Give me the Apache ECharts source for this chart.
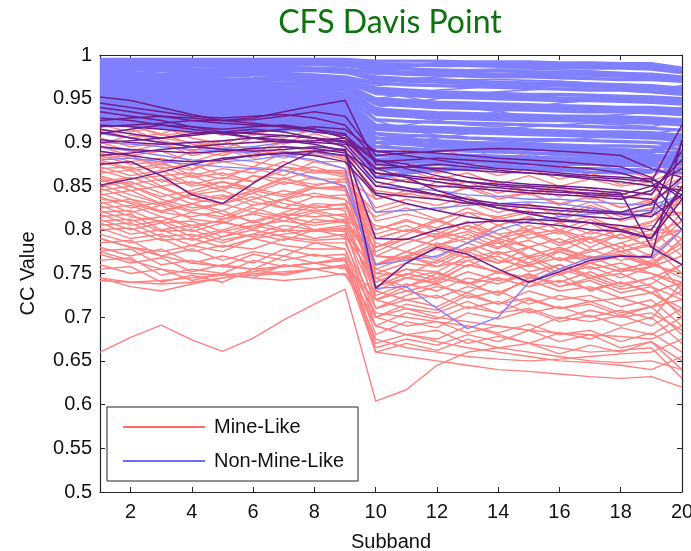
<!DOCTYPE html>
<html>
<head>
<meta charset="utf-8">
<script src="https://cdn.jsdelivr.net/npm/echarts@6/dist/echarts.min.js"></script>
<style>
  html, body { margin: 0; padding: 0; background: #ffffff; }
  #chart { width: 691px; height: 551px; }
</style>
</head>
<body>
<div id="chart"></div>
<script>
// Subband index on the x axis
const subband = [1, 2, 3, 4, 5, 6, 7, 8, 9, 10, 11, 12, 13, 14, 15, 16, 17, 18, 19, 20];
const xTickValues = [2, 4, 6, 8, 10, 12, 14, 16, 18, 20];
const yTickValues = [0.5, 0.55, 0.6, 0.65, 0.7, 0.75, 0.8, 0.85, 0.9, 0.95, 1];

// Mine-like targets: CC value per subband (upper group)
const mineLikeHigh = [
  [.93,.925,.918,.925,.92,.912,.922,.93,.925,.9,.89,.895,.882,.878,.885,.872,.876,.868,.872,.89],
  [.925,.932,.922,.915,.92,.908,.918,.915,.918,.91,.902,.89,.895,.88,.888,.875,.882,.872,.878,.86],
  [.925,.918,.91,.92,.908,.918,.912,.922,.915,.87,.878,.865,.872,.862,.87,.858,.865,.852,.86,.88],
  [.92,.912,.918,.905,.898,.91,.905,.915,.905,.86,.868,.858,.865,.852,.862,.85,.858,.85,.855,.87],
  [.918,.92,.908,.912,.918,.91,.922,.915,.912,.888,.878,.885,.875,.882,.868,.875,.862,.87,.858,.9],
  [.915,.905,.91,.898,.892,.905,.898,.905,.895,.78,.795,.81,.8,.815,.8,.808,.795,.805,.792,.84],
  [.91,.915,.902,.895,.902,.89,.9,.91,.9,.85,.858,.848,.855,.842,.85,.838,.848,.835,.842,.86],
  [.905,.895,.9,.885,.892,.882,.895,.89,.89,.835,.845,.838,.848,.835,.842,.828,.838,.825,.835,.85],
  [.9,.89,.898,.89,.902,.89,.882,.89,.88,.77,.785,.795,.785,.805,.79,.798,.78,.795,.78,.82],
  [.898,.908,.905,.9,.895,.885,.89,.885,.885,.845,.84,.855,.848,.855,.84,.848,.835,.842,.832,.875],
  [.895,.885,.89,.878,.888,.892,.885,.892,.882,.76,.775,.768,.785,.772,.78,.765,.778,.765,.772,.8],
  [.89,.882,.875,.89,.885,.895,.885,.878,.878,.825,.835,.828,.838,.825,.83,.815,.828,.815,.825,.83],
  [.888,.878,.882,.87,.878,.872,.888,.885,.885,.865,.855,.862,.848,.855,.842,.85,.838,.845,.84,.89],
  [.885,.875,.878,.862,.87,.865,.878,.868,.868,.755,.768,.762,.778,.785,.768,.775,.762,.77,.758,.79],
  [.882,.885,.87,.875,.862,.87,.862,.878,.87,.81,.818,.81,.825,.812,.82,.81,.825,.81,.818,.82],
  [.88,.87,.875,.868,.882,.878,.872,.868,.865,.74,.755,.752,.77,.762,.78,.765,.77,.755,.762,.785],
  [.878,.868,.872,.86,.865,.855,.872,.865,.866,.8,.81,.802,.82,.815,.822,.808,.815,.8,.808,.84],
  [.875,.878,.862,.865,.858,.872,.868,.872,.862,.79,.8,.795,.81,.795,.8,.785,.798,.79,.795,.81],
  [.872,.862,.868,.852,.86,.855,.868,.858,.858,.835,.842,.835,.85,.838,.842,.83,.838,.826,.832,.855],
  [.87,.872,.855,.862,.848,.862,.858,.868,.86,.75,.762,.758,.775,.762,.77,.755,.762,.752,.765,.8],
  [.868,.858,.862,.85,.855,.845,.858,.852,.855,.82,.83,.822,.832,.82,.828,.82,.832,.818,.825,.78],
  [.865,.868,.85,.855,.845,.862,.852,.86,.85,.73,.745,.74,.76,.752,.768,.75,.758,.745,.758,.77],
  [.862,.852,.858,.842,.85,.845,.86,.848,.848,.775,.79,.782,.795,.78,.788,.775,.79,.775,.782,.75]
];

// Mine-like targets: middle group
const mineLikeMid = [
  [.86,.85,.838,.845,.855,.848,.84,.85,.858,.8,.812,.798,.79,.805,.815,.8,.79,.8,.81,.82],
  [.858,.845,.85,.835,.83,.842,.855,.848,.85,.72,.735,.75,.74,.725,.745,.76,.748,.735,.745,.76],
  [.855,.86,.848,.835,.84,.828,.835,.848,.848,.785,.775,.79,.805,.795,.78,.79,.775,.785,.795,.8],
  [.852,.84,.83,.842,.835,.845,.838,.848,.845,.76,.77,.785,.775,.79,.78,.765,.775,.785,.77,.73],
  [.85,.855,.842,.83,.822,.835,.845,.838,.84,.815,.825,.812,.82,.805,.815,.8,.812,.798,.805,.79],
  [.848,.835,.828,.84,.845,.832,.825,.838,.835,.745,.755,.745,.765,.77,.752,.76,.745,.755,.75,.74],
  [.845,.85,.835,.825,.83,.82,.835,.842,.835,.795,.805,.79,.798,.785,.795,.8,.785,.795,.78,.81],
  [.842,.83,.82,.83,.838,.842,.83,.825,.83,.77,.768,.782,.79,.778,.8,.785,.79,.775,.785,.76],
  [.84,.845,.83,.82,.815,.828,.835,.825,.83,.735,.75,.742,.76,.752,.74,.755,.745,.75,.735,.72],
  [.838,.825,.832,.822,.83,.838,.825,.822,.825,.805,.798,.812,.8,.79,.805,.795,.808,.79,.8,.77],
  [.835,.832,.822,.83,.818,.81,.82,.83,.828,.76,.775,.765,.78,.765,.758,.775,.765,.78,.76,.78],
  [.832,.82,.828,.812,.808,.82,.815,.828,.822,.71,.725,.735,.728,.745,.735,.75,.73,.74,.728,.71],
  [.83,.835,.82,.815,.822,.808,.818,.815,.818,.78,.79,.782,.775,.788,.77,.78,.768,.775,.762,.745],
  [.828,.815,.81,.82,.812,.825,.815,.822,.815,.75,.748,.765,.758,.775,.76,.768,.755,.762,.75,.735],
  [.825,.828,.815,.805,.81,.8,.815,.808,.812,.79,.8,.792,.805,.79,.798,.782,.792,.78,.788,.8],
  [.822,.81,.815,.802,.812,.818,.81,.82,.81,.725,.738,.73,.745,.738,.75,.735,.742,.728,.735,.7],
  [.82,.822,.808,.81,.798,.805,.81,.805,.81,.77,.765,.778,.768,.775,.762,.778,.768,.772,.76,.75],
  [.818,.805,.81,.798,.808,.802,.815,.8,.805,.745,.735,.745,.738,.752,.745,.74,.752,.738,.745,.725],
  [.815,.818,.8,.805,.792,.805,.798,.812,.808,.76,.77,.758,.765,.75,.76,.748,.762,.752,.758,.79],
  [.812,.8,.808,.792,.8,.81,.8,.798,.8,.7,.715,.708,.725,.715,.73,.72,.725,.712,.72,.69],
  [.81,.812,.798,.8,.788,.795,.805,.8,.802,.735,.745,.738,.752,.742,.748,.735,.745,.732,.738,.76],
  [.808,.795,.8,.788,.798,.792,.8,.79,.795,.755,.745,.752,.738,.745,.735,.742,.732,.74,.728,.705],
  [.805,.808,.792,.795,.785,.795,.788,.8,.798,.72,.73,.722,.735,.728,.742,.73,.735,.722,.728,.74],
  [.802,.79,.795,.782,.792,.8,.792,.788,.79,.69,.705,.698,.712,.705,.72,.71,.715,.702,.712,.68],
  [.8,.802,.788,.79,.78,.79,.795,.8,.792,.745,.73,.738,.722,.73,.715,.725,.718,.722,.712,.73]
];

// Mine-like targets: lower group
const mineLikeLow = [
  [.795,.785,.79,.775,.782,.778,.79,.785,.785,.71,.72,.712,.728,.715,.722,.71,.718,.705,.712,.72],
  [.79,.78,.775,.782,.775,.79,.782,.778,.778,.68,.695,.688,.705,.698,.708,.695,.702,.69,.7,.67],
  [.785,.788,.77,.778,.765,.775,.77,.785,.778,.7,.69,.695,.682,.69,.685,.7,.695,.702,.69,.71],
  [.78,.77,.778,.762,.77,.762,.778,.77,.772,.67,.68,.675,.69,.682,.692,.68,.685,.672,.682,.66],
  [.776,.778,.76,.765,.758,.772,.765,.772,.765,.69,.68,.685,.67,.678,.67,.682,.675,.688,.68,.7],
  [.772,.762,.768,.752,.76,.755,.77,.762,.765,.665,.675,.668,.68,.672,.685,.672,.68,.665,.672,.65],
  [.765,.768,.748,.755,.75,.765,.758,.762,.755,.73,.72,.725,.71,.718,.705,.712,.7,.708,.698,.74],
  [.76,.75,.755,.742,.75,.745,.76,.755,.758,.66,.67,.662,.675,.665,.67,.658,.668,.66,.672,.64],
  [.755,.758,.74,.748,.74,.755,.748,.755,.748,.7,.71,.705,.718,.705,.71,.698,.708,.7,.705,.685],
  [.745,.735,.73,.738,.745,.75,.752,.755,.76,.675,.665,.66,.655,.652,.65,.652,.655,.658,.66,.675],
  [.742,.74,.738,.74,.745,.748,.75,.755,.758,.72,.71,.7,.695,.69,.685,.682,.68,.678,.675,.69],
  [.775,.765,.755,.75,.748,.752,.758,.762,.768,.66,.655,.65,.645,.64,.638,.635,.632,.63,.632,.62],
  [.79,.78,.77,.762,.758,.755,.758,.762,.765,.705,.7,.695,.69,.68,.67,.665,.66,.662,.665,.63],
  [.745,.74,.742,.745,.748,.745,.742,.745,.75,.69,.68,.672,.665,.66,.655,.65,.648,.645,.64,.655],
  [.66,.677,.691,.674,.661,.676,.697,.715,.732,.604,.617,.645,.66,.665,.66,.655,.65,.648,.65,.64]
];

// Non-mine-like targets: dense upper band
const nonMineLikeBand = [
  [.995,.995,.995,.995,.995,.995,.995,.995,.995,.993,.993,.993,.992,.992,.992,.991,.991,.99,.99,.985],
  [.994,.993,.993,.992,.992,.992,.993,.993,.992,.988,.987,.99,.99,.989,.989,.988,.988,.987,.987,.983],
  [.993,.992,.992,.991,.99,.99,.991,.992,.991,.99,.989,.988,.988,.987,.986,.986,.985,.985,.984,.98],
  [.991,.99,.99,.989,.989,.989,.99,.99,.99,.982,.98,.98,.979,.978,.978,.977,.977,.976,.975,.972],
  [.99,.989,.988,.988,.987,.988,.989,.989,.988,.985,.984,.983,.982,.982,.981,.98,.98,.979,.978,.975],
  [.988,.986,.985,.984,.984,.985,.986,.985,.984,.98,.978,.977,.976,.975,.975,.974,.973,.972,.972,.97],
  [.986,.985,.984,.982,.982,.983,.984,.983,.982,.972,.97,.969,.967,.966,.965,.965,.964,.963,.962,.958],
  [.985,.984,.982,.98,.979,.98,.982,.982,.98,.975,.973,.972,.97,.969,.968,.968,.967,.966,.965,.962],
  [.982,.98,.978,.977,.976,.977,.978,.977,.975,.968,.966,.965,.964,.963,.962,.961,.96,.96,.958,.955],
  [.98,.978,.976,.974,.972,.973,.975,.975,.973,.962,.96,.958,.957,.956,.955,.955,.954,.953,.952,.95],
  [.979,.977,.975,.972,.971,.972,.974,.973,.971,.959,.957,.955,.954,.953,.952,.951,.951,.95,.949,.947],
  [.977,.975,.973,.97,.969,.97,.972,.971,.969,.956,.954,.952,.951,.95,.949,.948,.948,.947,.946,.944],
  [.975,.972,.97,.968,.966,.967,.968,.968,.966,.95,.948,.946,.945,.944,.943,.942,.941,.94,.94,.938],
  [.973,.971,.969,.967,.965,.966,.967,.966,.964,.947,.945,.943,.942,.941,.94,.939,.938,.938,.937,.935],
  [.972,.97,.968,.965,.963,.964,.966,.965,.962,.944,.942,.94,.939,.938,.937,.936,.935,.935,.934,.932],
  [.97,.967,.965,.962,.96,.961,.962,.962,.96,.938,.936,.934,.933,.932,.931,.93,.93,.929,.928,.926],
  [.967,.965,.962,.96,.958,.958,.96,.959,.956,.932,.93,.928,.927,.926,.925,.925,.924,.923,.922,.92],
  [.966,.964,.961,.959,.957,.957,.959,.958,.955,.935,.933,.931,.93,.929,.928,.928,.927,.926,.925,.923],
  [.965,.962,.96,.957,.955,.956,.957,.956,.953,.926,.924,.923,.922,.921,.92,.919,.918,.917,.916,.914],
  [.962,.96,.957,.955,.953,.953,.955,.953,.95,.92,.918,.917,.916,.915,.914,.913,.912,.912,.911,.908],
  [.96,.957,.955,.952,.95,.951,.952,.951,.948,.915,.913,.912,.911,.91,.909,.908,.907,.906,.905,.902],
  [.958,.956,.954,.951,.949,.95,.951,.95,.947,.918,.916,.915,.914,.913,.912,.911,.91,.909,.908,.905],
  [.957,.955,.952,.95,.948,.948,.95,.948,.945,.91,.908,.907,.905,.904,.903,.903,.902,.901,.9,.897],
  [.955,.952,.95,.947,.945,.946,.947,.946,.943,.905,.903,.902,.9,.899,.898,.897,.896,.896,.895,.892],
  [.952,.95,.947,.945,.943,.943,.945,.943,.94,.9,.898,.896,.895,.894,.893,.892,.891,.89,.89,.888],
  [.95,.947,.945,.942,.94,.941,.942,.941,.938,.895,.893,.891,.89,.889,.888,.887,.886,.886,.885,.884],
  [.947,.945,.942,.94,.938,.938,.94,.938,.935,.89,.888,.886,.885,.884,.883,.882,.882,.881,.88,.88],
  [.945,.942,.94,.937,.935,.936,.937,.936,.933,.885,.884,.882,.881,.88,.879,.878,.878,.877,.876,.89],
  [.942,.94,.937,.935,.933,.933,.935,.933,.93,.88,.879,.878,.877,.876,.876,.875,.875,.874,.874,.875],
  [.94,.937,.935,.932,.93,.931,.932,.93,.928,.91,.905,.9,.898,.896,.895,.894,.893,.892,.89,.905],
  [.937,.935,.932,.93,.928,.928,.93,.928,.925,.875,.877,.878,.88,.88,.879,.878,.876,.875,.874,.87],
  [.935,.932,.93,.927,.925,.926,.927,.925,.922,.905,.9,.897,.895,.893,.892,.891,.89,.889,.888,.9],
  [.932,.93,.927,.925,.922,.923,.925,.923,.92,.88,.882,.884,.885,.884,.883,.882,.881,.88,.879,.885],
  [.93,.927,.925,.922,.92,.921,.922,.92,.918,.87,.872,.875,.877,.878,.877,.876,.875,.874,.873,.878],
  [.927,.925,.922,.92,.918,.918,.92,.918,.915,.87,.868,.87,.872,.873,.872,.87,.87,.869,.868,.865],
  [.925,.922,.92,.917,.915,.916,.917,.915,.912,.86,.865,.868,.87,.872,.87,.868,.866,.865,.866,.89],
  [.922,.92,.917,.915,.913,.913,.915,.913,.91,.9,.898,.895,.893,.89,.888,.886,.885,.884,.883,.878]
];

// Non-mine-like targets: band lines that wander across it
const nonMineLikeCross = [
  [.96,.965,.97,.975,.978,.98,.982,.983,.98,.97,.972,.975,.976,.978,.978,.977,.976,.975,.974,.97],
  [.975,.97,.962,.955,.95,.948,.952,.958,.96,.94,.945,.95,.955,.958,.96,.962,.963,.962,.96,.965],
  [.99,.985,.978,.97,.965,.962,.965,.97,.972,.96,.952,.945,.94,.935,.93,.928,.93,.932,.935,.94],
  [.945,.95,.955,.96,.962,.965,.968,.97,.968,.95,.955,.96,.962,.965,.968,.97,.968,.965,.962,.955],
  [.952,.958,.962,.958,.952,.948,.945,.948,.952,.915,.92,.925,.93,.935,.94,.945,.948,.95,.95,.948],
  [.968,.962,.958,.962,.968,.972,.975,.972,.968,.925,.915,.908,.905,.902,.9,.902,.905,.908,.91,.915],
  [.935,.94,.945,.948,.95,.952,.955,.955,.952,.935,.93,.925,.92,.918,.915,.912,.91,.908,.905,.91],
  [.92,.925,.93,.935,.94,.942,.94,.935,.93,.895,.9,.905,.91,.915,.918,.92,.922,.92,.918,.925],
  [.98,.982,.985,.987,.988,.988,.986,.984,.982,.978,.98,.982,.983,.984,.984,.983,.982,.98,.978,.975],
  [.985,.98,.975,.972,.975,.978,.98,.978,.975,.965,.968,.97,.972,.972,.971,.97,.968,.966,.964,.96]
];

// Non-mine-like targets that fall into the lower range
const nonMineLikeScattered = [
  [.9,.898,.895,.892,.89,.888,.885,.88,.87,.733,.735,.71,.687,.7,.74,.755,.768,.77,.768,.8],
  [.88,.882,.878,.875,.872,.87,.868,.86,.85,.76,.765,.77,.785,.8,.81,.815,.818,.82,.822,.84],
  [.91,.905,.9,.895,.893,.895,.9,.902,.9,.85,.848,.845,.84,.838,.835,.835,.832,.83,.828,.84],
  [.895,.89,.885,.88,.878,.88,.885,.888,.885,.82,.822,.825,.828,.83,.832,.83,.825,.82,.815,.86]
];

// Non-mine-like targets overlapping the mine-like range
const nonMineLikeDark = [
  [.952,.948,.94,.932,.925,.926,.93,.935,.93,.885,.888,.89,.892,.893,.892,.89,.888,.885,.87,.86],
  [.925,.928,.93,.928,.925,.928,.935,.942,.948,.875,.872,.87,.868,.866,.865,.863,.86,.858,.855,.92],
  [.875,.878,.862,.84,.83,.853,.874,.89,.885,.842,.838,.835,.83,.828,.825,.822,.82,.818,.815,.84],
  [.851,.858,.866,.875,.882,.885,.888,.89,.892,.79,.789,.8,.808,.81,.812,.81,.808,.8,.79,.835],
  [.94,.935,.93,.925,.922,.92,.918,.915,.91,.865,.86,.855,.85,.848,.845,.843,.842,.84,.85,.87],
  [.92,.918,.915,.912,.91,.912,.915,.918,.915,.89,.885,.88,.875,.87,.868,.865,.862,.86,.858,.84],
  [.91,.915,.92,.918,.912,.905,.9,.902,.905,.878,.88,.882,.88,.878,.875,.872,.87,.865,.855,.81],
  [.903,.9,.898,.9,.902,.905,.908,.905,.9,.86,.855,.85,.848,.845,.842,.84,.838,.835,.845,.88],
  [.935,.93,.925,.918,.915,.918,.92,.915,.905,.87,.86,.845,.835,.825,.82,.818,.815,.812,.82,.9],
  [.915,.91,.905,.908,.912,.915,.912,.905,.895,.855,.848,.84,.835,.83,.828,.825,.822,.82,.83,.86],
  [.895,.892,.89,.888,.89,.893,.895,.893,.888,.865,.862,.858,.855,.852,.85,.848,.845,.842,.78,.76],
  [.928,.925,.92,.915,.91,.905,.903,.9,.898,.89,.89,.888,.885,.882,.88,.878,.875,.872,.86,.835],
  [.885,.888,.892,.895,.898,.9,.902,.898,.89,.85,.845,.84,.832,.825,.818,.812,.808,.805,.8,.85],
  [.912,.905,.9,.895,.892,.89,.892,.895,.892,.733,.762,.78,.772,.755,.74,.752,.765,.77,.769,.903],
  [.945,.94,.935,.93,.928,.93,.932,.928,.92,.88,.87,.862,.855,.85,.848,.845,.84,.838,.835,.8],
  [.9,.902,.905,.91,.912,.91,.908,.905,.902,.87,.872,.875,.872,.868,.865,.862,.858,.855,.85,.845],
  [.918,.92,.922,.925,.925,.922,.918,.912,.908,.88,.875,.868,.86,.855,.852,.85,.848,.845,.84,.89],
  [.89,.885,.88,.878,.88,.885,.888,.885,.878,.84,.83,.822,.815,.81,.808,.805,.8,.798,.79,.85]
];

const MINE = 'Mine-Like';
const NON_MINE = 'Non-Mine-Like';
const axisColor = '#262626';
const labelFont = 'Liberation Sans, Arial, sans-serif';

// One line series per target
function lineSeries(rows, name, color, width) {
  return rows.map(row => ({
    type: 'line',
    name: name,
    data: row.map((v, i) => [subband[i], v]),
    symbol: 'none',
    showSymbol: false,
    silent: true,
    animation: false,
    lineStyle: { color: color, width: width },
    itemStyle: { color: color },
    emphasis: { disabled: true }
  }));
}

const series = [].concat(
  lineSeries(mineLikeHigh, MINE, '#ff8080', 1.4),
  lineSeries(mineLikeMid, MINE, '#ff8080', 1.4),
  lineSeries(mineLikeLow, MINE, '#ff8080', 1.4),
  lineSeries(nonMineLikeBand, NON_MINE, '#8080ff', 3.4),
  lineSeries(nonMineLikeCross, NON_MINE, '#8080ff', 1.6),
  lineSeries(nonMineLikeScattered, NON_MINE, '#8080ff', 1.4),
  lineSeries(nonMineLikeDark, NON_MINE, '#701c8c', 1.5)
);

const tickStyle = { show: true, inside: true, length: 5, lineStyle: { color: axisColor, width: 1 } };
const lineStyleAxis = { show: true, lineStyle: { color: axisColor, width: 1.2 } };

const chart = echarts.init(document.getElementById('chart'), null, { renderer: 'canvas' });
chart.setOption({
  backgroundColor: '#ffffff',
  animation: false,
  title: {
    text: 'CFS Davis Point',
    left: 385,
    top: 2,
    textAlign: 'center',
    textStyle: { color: '#0e730e', fontSize: 32, fontWeight: 'normal', fontFamily: 'Lato, "Open Sans", sans-serif' }
  },
  grid: { left: 100, right: 9, top: 55, bottom: 59, containLabel: false, outerBoundsMode: 'none' },
  legend: {
    orient: 'vertical',
    left: 107,
    top: 407,
    icon: 'rect',
    itemWidth: 82,
    itemHeight: 1.5,
    itemGap: 14,
    padding: [10, 14, 10, 16],
    borderColor: '#262626',
    borderWidth: 1,
    backgroundColor: '#ffffff',
    selectedMode: false,
    textStyle: { color: '#111', fontSize: 20, fontFamily: labelFont, padding: [0, 0, 0, 4] },
    data: [
      { name: MINE, itemStyle: { color: '#ff3a3a' } },
      { name: NON_MINE, itemStyle: { color: '#3a3aff' } }
    ]
  },
  xAxis: [
    {
      type: 'value', min: 1, max: 20,
      name: 'Subband', nameLocation: 'middle', nameGap: 40,
      nameTextStyle: { color: '#111', fontSize: 20, fontFamily: labelFont },
      axisLine: lineStyleAxis,
      axisTick: Object.assign({ customValues: xTickValues }, tickStyle),
      axisLabel: { customValues: xTickValues, color: '#111', fontSize: 20, fontFamily: labelFont, margin: 10 },
      splitLine: { show: false }
    },
    {
      type: 'value', min: 1, max: 20, position: 'top',
      axisLine: lineStyleAxis,
      axisTick: Object.assign({ customValues: xTickValues }, tickStyle),
      axisLabel: { show: false },
      splitLine: { show: false }
    }
  ],
  yAxis: [
    {
      type: 'value', min: 0.5, max: 1, interval: 0.05,
      name: 'CC Value', nameLocation: 'middle', nameGap: 62,
      nameTextStyle: { color: '#111', fontSize: 20, fontFamily: labelFont },
      axisLine: lineStyleAxis,
      axisTick: Object.assign({ customValues: yTickValues }, tickStyle),
      axisLabel: {
        customValues: yTickValues, color: '#111', fontSize: 20, fontFamily: labelFont, margin: 8,
        formatter: v => String(Math.round(v * 100) / 100)
      },
      splitLine: { show: false }
    },
    {
      type: 'value', min: 0.5, max: 1, interval: 0.05, position: 'right',
      axisLine: lineStyleAxis,
      axisTick: Object.assign({ customValues: yTickValues }, tickStyle),
      axisLabel: { show: false },
      splitLine: { show: false }
    }
  ],
  series: series
});
</script>
</body>
</html>
